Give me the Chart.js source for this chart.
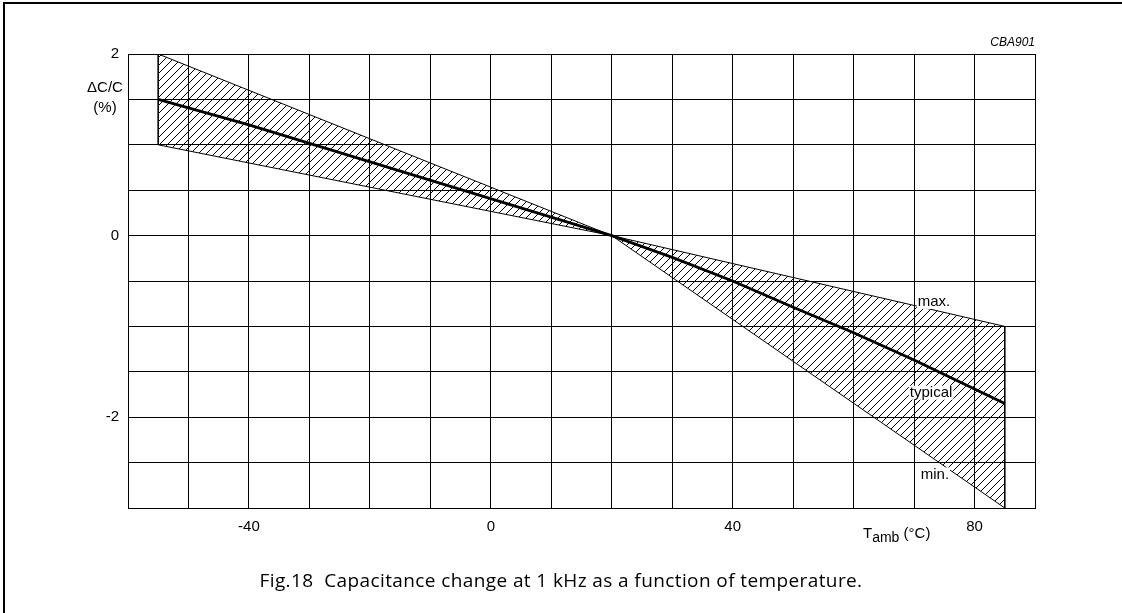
<!DOCTYPE html>
<html lang="en">
  <head>
    <meta charset="UTF-8" />
    <title>Capacitance change vs temperature</title>
    <script src="https://cdn.jsdelivr.net/npm/chart.js@4"></script>
    <style>
      body { margin: 0; background: #fff; }
      .page { position: relative; width: 1122px; height: 613px; overflow: hidden; font-family: "Liberation Sans", Arial, sans-serif; color: #000; }
      .page canvas { position: absolute; left: 0; top: 0; }
      .frame { position: absolute; left: 3px; top: 2px; right: -10px; bottom: -10px; border-left: 2px solid #000; border-top: 2px solid #000; pointer-events: none; }
      .ytitle { position: absolute; left: 70px; width: 70px; top: 77px; text-align: center; font-size: 15px; line-height: 20px; }
      .xtitle { position: absolute; left: 863px; top: 524px; font-size: 15px; white-space: nowrap; }
      .xtitle sub { font-size: 14px; vertical-align: -4px; }
      .code { position: absolute; right: 87px; top: 35px; font-size: 12px; font-style: italic; }
      .caption { position: absolute; left: 0; width: 1122px; top: 567px; text-align: center; font-family: "Open Sans", "Lato", sans-serif; font-size: 19px; white-space: nowrap; }
    </style>
  </head>
  <body>
    <div class="page">
      <canvas id="capChart" width="1122" height="613"></canvas>
      <div class="frame"></div>
      <div class="code">CBA901</div>
      <div class="ytitle">&Delta;C/C<br />(%)</div>
      <div class="xtitle">T<sub>amb</sub> (&deg;C)</div>
      <div class="caption"><span id="cap">Fig.18&nbsp; Capacitance change at 1 kHz as a function of temperature.</span></div>
    </div>
    <script>
      // values (temperature in degC, change in %)
      const maxTemps = [-55, 20, 85];
      const maxValues = [2.0, 0, -1.0];
      const minTemps = [-55, 20, 85];
      const minValues = [1.0, 0, -3.0];
      const typTemps = [-55, -40, 20, 30, 40, 50, 60, 70, 80, 85];
      const typValues = [1.5, 1.22, 0, -0.24, -0.5, -0.79, -1.07, -1.37, -1.69, -1.85];

      const xLabels = [-40, 0, 40, 80];
      const yLabels = [2, 0, -2];

      // curve names and where they sit (data coords)
      const curveNames = ["max.", "typical", "min."];
      const nameTemps = [70.6, 69.3, 71.1];
      const nameValues = [-0.73, -1.73, -2.63];

      // stretch the caption to the width it has in the figure
      const cap = document.getElementById("cap");
      const capW = cap.getBoundingClientRect().width;
      cap.style.letterSpacing = (603 - capW) / cap.textContent.length + "px";

      function pts(xs, ys) {
        return xs.map((x, i) => ({ x: x, y: ys[i] }));
      }

      // diagonal hatch "/"
      function hatch() {
        const s = 8;
        const c = document.createElement("canvas");
        c.width = s;
        c.height = s;
        const g = c.getContext("2d");
        g.strokeStyle = "#000";
        g.lineWidth = 1;
        g.beginPath();
        g.moveTo(0, s);
        g.lineTo(s, 0);
        g.moveTo(-1, 1);
        g.lineTo(1, -1);
        g.moveTo(s - 1, s + 1);
        g.lineTo(s + 1, s - 1);
        g.stroke();
        return g.createPattern(c, "repeat");
      }

      // vertical ends of the band
      const last = maxTemps.length - 1;
      const edges = [
        { x: maxTemps[0], y: maxValues[0] },
        { x: minTemps[0], y: minValues[0] },
        { x: maxTemps[1], y: null },
        { x: maxTemps[last], y: maxValues[last] },
        { x: minTemps[last], y: minValues[last] },
      ];

      const curveLabels = {
        id: "curveLabels",
        afterDatasetsDraw(chart) {
          const ctx = chart.ctx;
          const xs = chart.scales.x;
          const ys = chart.scales.y;
          ctx.save();
          ctx.font = '15px "Liberation Sans", Arial, sans-serif';
          ctx.textBaseline = "middle";
          curveNames.forEach((t, i) => {
            const px = xs.getPixelForValue(nameTemps[i]);
            const py = ys.getPixelForValue(nameValues[i]);
            const w = ctx.measureText(t).width;
            ctx.fillStyle = "#fff";
            ctx.fillRect(px - 1, py - 7, w + 2, 14);
            ctx.fillStyle = "#000";
            ctx.fillText(t, px, py);
          });
          ctx.restore();
        },
      };

      const tickFont = { family: '"Liberation Sans", Arial, sans-serif', size: 15 };

      new Chart(document.getElementById("capChart"), {
        type: "line",
        data: {
          datasets: [
            {
              label: "max",
              data: pts(maxTemps, maxValues),
              borderColor: "#000",
              borderWidth: 1,
              pointRadius: 0,
              backgroundColor: hatch(),
              fill: "+1",
            },
            {
              label: "min",
              data: pts(minTemps, minValues),
              borderColor: "#000",
              borderWidth: 1,
              pointRadius: 0,
              fill: false,
            },
            {
              label: "edges",
              data: edges,
              borderColor: "#000",
              borderWidth: 1,
              pointRadius: 0,
              spanGaps: false,
              fill: false,
            },
            {
              label: "typical",
              data: pts(typTemps, typValues),
              borderColor: "#000",
              borderWidth: 2.8,
              pointRadius: 0,
              fill: false,
            },
          ],
        },
        options: {
          responsive: false,
          animation: false,
          devicePixelRatio: 1,
          layout: { padding: { left: 0, top: 54, right: 87, bottom: 75 } },
          plugins: { legend: { display: false }, tooltip: { enabled: false } },
          scales: {
            x: {
              type: "linear",
              min: -60,
              max: 90,
              afterFit: (s) => { s.height = 30; },
              grid: { color: "#000", lineWidth: 1, drawTicks: false },
              border: { display: true, color: "#000", width: 1 },
              ticks: {
                stepSize: 10,
                autoSkip: false,
                maxRotation: 0,
                padding: 10,
                color: "#000",
                font: tickFont,
                callback: (v) => (xLabels.includes(v) ? String(v) : ""),
              },
            },
            y: {
              min: -3,
              max: 2,
              afterFit: (s) => { s.width = 128; },
              grid: { color: "#000", lineWidth: 1, drawTicks: false },
              border: { display: true, color: "#000", width: 1 },
              ticks: {
                stepSize: 0.5,
                autoSkip: false,
                padding: 9,
                color: "#000",
                font: tickFont,
                callback: (v) => (yLabels.includes(v) ? String(v) : ""),
              },
            },
          },
        },
        plugins: [curveLabels],
      });
    </script>
  </body>
</html>
